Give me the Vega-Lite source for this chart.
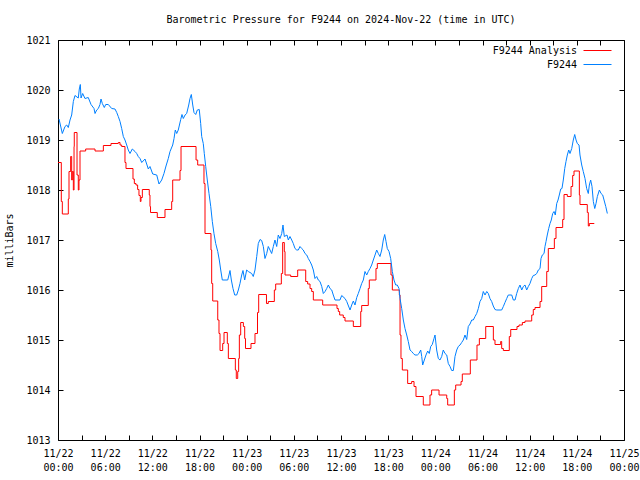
{
  "$schema": "https://vega.github.io/schema/vega-lite/v6.json",
  "width": 566,
  "height": 400,
  "autosize": {"type": "none"},
  "padding": {"left": 58, "top": 40, "right": 16, "bottom": 40},
  "background": "white",
  "config": {
    "font": "DejaVu Sans Mono",
    "view": {"stroke": "black", "strokeWidth": 1},
    "axis": {"grid": false, "domain": false, "tickColor": "black", "labelColor": "black", "labelFont": "DejaVu Sans Mono", "labelFontSize": 10, "titleFont": "DejaVu Sans Mono", "titleFontSize": 10, "titleFontWeight": "normal", "titleColor": "black"}
  },
  "title": {"text": "Barometric Pressure for F9244 on 2024-Nov-22 (time in UTC)", "font": "DejaVu Sans Mono", "fontSize": 10, "fontWeight": "normal", "color": "black", "anchor": "middle", "baseline": "middle", "offset": 5},
  "data": {"values": [
    {"series":"F9244 Analysis","hour":0,"mbar":1018.55},
    {"series":"F9244 Analysis","hour":0.42,"mbar":1017.77},
    {"series":"F9244 Analysis","hour":0.55,"mbar":1017.52},
    {"series":"F9244 Analysis","hour":1.31,"mbar":1017.82},
    {"series":"F9244 Analysis","hour":1.4,"mbar":1018.37},
    {"series":"F9244 Analysis","hour":1.61,"mbar":1018.67},
    {"series":"F9244 Analysis","hour":1.74,"mbar":1018.2},
    {"series":"F9244 Analysis","hour":1.82,"mbar":1018.37},
    {"series":"F9244 Analysis","hour":1.95,"mbar":1018.0},
    {"series":"F9244 Analysis","hour":2.04,"mbar":1018.87},
    {"series":"F9244 Analysis","hour":2.07,"mbar":1019.15},
    {"series":"F9244 Analysis","hour":2.42,"mbar":1018.3},
    {"series":"F9244 Analysis","hour":2.58,"mbar":1018.0},
    {"series":"F9244 Analysis","hour":2.67,"mbar":1018.2},
    {"series":"F9244 Analysis","hour":2.8,"mbar":1018.78},
    {"series":"F9244 Analysis","hour":3.52,"mbar":1018.82},
    {"series":"F9244 Analysis","hour":4.71,"mbar":1018.78},
    {"series":"F9244 Analysis","hour":5.77,"mbar":1018.89},
    {"series":"F9244 Analysis","hour":6.74,"mbar":1018.93},
    {"series":"F9244 Analysis","hour":7.67,"mbar":1018.95},
    {"series":"F9244 Analysis","hour":7.89,"mbar":1018.9},
    {"series":"F9244 Analysis","hour":8.1,"mbar":1018.87},
    {"series":"F9244 Analysis","hour":8.52,"mbar":1018.55},
    {"series":"F9244 Analysis","hour":8.65,"mbar":1018.43},
    {"series":"F9244 Analysis","hour":9.54,"mbar":1018.22},
    {"series":"F9244 Analysis","hour":9.71,"mbar":1018.13},
    {"series":"F9244 Analysis","hour":9.92,"mbar":1018.1},
    {"series":"F9244 Analysis","hour":10.13,"mbar":1018.01},
    {"series":"F9244 Analysis","hour":10.3,"mbar":1017.89},
    {"series":"F9244 Analysis","hour":10.47,"mbar":1017.77},
    {"series":"F9244 Analysis","hour":10.56,"mbar":1017.85},
    {"series":"F9244 Analysis","hour":10.73,"mbar":1018.01},
    {"series":"F9244 Analysis","hour":11.61,"mbar":1017.9},
    {"series":"F9244 Analysis","hour":11.7,"mbar":1017.67},
    {"series":"F9244 Analysis","hour":11.77,"mbar":1017.55},
    {"series":"F9244 Analysis","hour":12.63,"mbar":1017.45},
    {"series":"F9244 Analysis","hour":13.61,"mbar":1017.61},
    {"series":"F9244 Analysis","hour":14.46,"mbar":1017.77},
    {"series":"F9244 Analysis","hour":14.59,"mbar":1018.2},
    {"series":"F9244 Analysis","hour":15.52,"mbar":1018.39},
    {"series":"F9244 Analysis","hour":15.65,"mbar":1018.87},
    {"series":"F9244 Analysis","hour":17.56,"mbar":1018.6},
    {"series":"F9244 Analysis","hour":17.77,"mbar":1018.5},
    {"series":"F9244 Analysis","hour":18.57,"mbar":1018.13},
    {"series":"F9244 Analysis","hour":18.7,"mbar":1017.13},
    {"series":"F9244 Analysis","hour":19.46,"mbar":1016.8},
    {"series":"F9244 Analysis","hour":19.55,"mbar":1016.13},
    {"series":"F9244 Analysis","hour":19.68,"mbar":1015.78},
    {"series":"F9244 Analysis","hour":20.32,"mbar":1015.4},
    {"series":"F9244 Analysis","hour":20.48,"mbar":1015.13},
    {"series":"F9244 Analysis","hour":20.61,"mbar":1014.79},
    {"series":"F9244 Analysis","hour":20.95,"mbar":1014.93},
    {"series":"F9244 Analysis","hour":21.12,"mbar":1015.15},
    {"series":"F9244 Analysis","hour":21.54,"mbar":1014.93},
    {"series":"F9244 Analysis","hour":21.67,"mbar":1014.63},
    {"series":"F9244 Analysis","hour":22.56,"mbar":1014.4},
    {"series":"F9244 Analysis","hour":22.68,"mbar":1014.23},
    {"series":"F9244 Analysis","hour":22.86,"mbar":1014.37},
    {"series":"F9244 Analysis","hour":22.98,"mbar":1014.63},
    {"series":"F9244 Analysis","hour":23.07,"mbar":1015.1},
    {"series":"F9244 Analysis","hour":23.24,"mbar":1015.35},
    {"series":"F9244 Analysis","hour":23.58,"mbar":1015.27},
    {"series":"F9244 Analysis","hour":23.75,"mbar":1015.03},
    {"series":"F9244 Analysis","hour":23.85,"mbar":1014.83},
    {"series":"F9244 Analysis","hour":24.55,"mbar":1014.93},
    {"series":"F9244 Analysis","hour":25.06,"mbar":1015.13},
    {"series":"F9244 Analysis","hour":25.38,"mbar":1015.55},
    {"series":"F9244 Analysis","hour":25.53,"mbar":1015.91},
    {"series":"F9244 Analysis","hour":26.52,"mbar":1015.73},
    {"series":"F9244 Analysis","hour":26.75,"mbar":1015.77},
    {"series":"F9244 Analysis","hour":27.52,"mbar":1016.0},
    {"series":"F9244 Analysis","hour":27.69,"mbar":1016.12},
    {"series":"F9244 Analysis","hour":28.41,"mbar":1016.33},
    {"series":"F9244 Analysis","hour":28.58,"mbar":1016.95},
    {"series":"F9244 Analysis","hour":28.79,"mbar":1016.77},
    {"series":"F9244 Analysis","hour":28.88,"mbar":1016.3},
    {"series":"F9244 Analysis","hour":29.6,"mbar":1016.27},
    {"series":"F9244 Analysis","hour":30.49,"mbar":1016.4},
    {"series":"F9244 Analysis","hour":31.51,"mbar":1016.17},
    {"series":"F9244 Analysis","hour":31.76,"mbar":1016.12},
    {"series":"F9244 Analysis","hour":32.06,"mbar":1016.03},
    {"series":"F9244 Analysis","hour":32.27,"mbar":1015.97},
    {"series":"F9244 Analysis","hour":32.48,"mbar":1015.8},
    {"series":"F9244 Analysis","hour":33.67,"mbar":1015.7},
    {"series":"F9244 Analysis","hour":35.49,"mbar":1015.63},
    {"series":"F9244 Analysis","hour":35.66,"mbar":1015.57},
    {"series":"F9244 Analysis","hour":35.83,"mbar":1015.5},
    {"series":"F9244 Analysis","hour":36.29,"mbar":1015.45},
    {"series":"F9244 Analysis","hour":36.51,"mbar":1015.38},
    {"series":"F9244 Analysis","hour":37.57,"mbar":1015.27},
    {"series":"F9244 Analysis","hour":38.51,"mbar":1015.57},
    {"series":"F9244 Analysis","hour":38.63,"mbar":1015.69},
    {"series":"F9244 Analysis","hour":39.47,"mbar":1016.03},
    {"series":"F9244 Analysis","hour":39.6,"mbar":1016.2},
    {"series":"F9244 Analysis","hour":40.45,"mbar":1016.43},
    {"series":"F9244 Analysis","hour":40.62,"mbar":1016.53},
    {"series":"F9244 Analysis","hour":42.36,"mbar":1016.3},
    {"series":"F9244 Analysis","hour":42.53,"mbar":1016.0},
    {"series":"F9244 Analysis","hour":43.42,"mbar":1015.9},
    {"series":"F9244 Analysis","hour":43.51,"mbar":1015.1},
    {"series":"F9244 Analysis","hour":43.63,"mbar":1014.63},
    {"series":"F9244 Analysis","hour":43.8,"mbar":1014.4},
    {"series":"F9244 Analysis","hour":44.48,"mbar":1014.13},
    {"series":"F9244 Analysis","hour":44.99,"mbar":1014.17},
    {"series":"F9244 Analysis","hour":45.29,"mbar":1014.07},
    {"series":"F9244 Analysis","hour":45.54,"mbar":1013.87},
    {"series":"F9244 Analysis","hour":46.47,"mbar":1013.7},
    {"series":"F9244 Analysis","hour":47.32,"mbar":1013.9},
    {"series":"F9244 Analysis","hour":47.53,"mbar":1014.0},
    {"series":"F9244 Analysis","hour":48.47,"mbar":1013.9},
    {"series":"F9244 Analysis","hour":49.45,"mbar":1013.83},
    {"series":"F9244 Analysis","hour":49.57,"mbar":1013.7},
    {"series":"F9244 Analysis","hour":50.42,"mbar":1014.0},
    {"series":"F9244 Analysis","hour":50.59,"mbar":1014.1},
    {"series":"F9244 Analysis","hour":51.27,"mbar":1014.17},
    {"series":"F9244 Analysis","hour":51.43,"mbar":1014.32},
    {"series":"F9244 Analysis","hour":52.45,"mbar":1014.6},
    {"series":"F9244 Analysis","hour":53.3,"mbar":1014.9},
    {"series":"F9244 Analysis","hour":53.6,"mbar":1015.03},
    {"series":"F9244 Analysis","hour":54.41,"mbar":1015.27},
    {"series":"F9244 Analysis","hour":55.38,"mbar":1015.0},
    {"series":"F9244 Analysis","hour":55.59,"mbar":1014.91},
    {"series":"F9244 Analysis","hour":56.31,"mbar":1014.97},
    {"series":"F9244 Analysis","hour":56.44,"mbar":1014.83},
    {"series":"F9244 Analysis","hour":56.65,"mbar":1014.79},
    {"series":"F9244 Analysis","hour":57.41,"mbar":1015.07},
    {"series":"F9244 Analysis","hour":57.59,"mbar":1015.21},
    {"series":"F9244 Analysis","hour":58.39,"mbar":1015.27},
    {"series":"F9244 Analysis","hour":58.64,"mbar":1015.3},
    {"series":"F9244 Analysis","hour":59.07,"mbar":1015.35},
    {"series":"F9244 Analysis","hour":59.41,"mbar":1015.38},
    {"series":"F9244 Analysis","hour":60.26,"mbar":1015.5},
    {"series":"F9244 Analysis","hour":60.46,"mbar":1015.61},
    {"series":"F9244 Analysis","hour":60.68,"mbar":1015.65},
    {"series":"F9244 Analysis","hour":61.32,"mbar":1015.77},
    {"series":"F9244 Analysis","hour":61.53,"mbar":1016.07},
    {"series":"F9244 Analysis","hour":62.17,"mbar":1016.37},
    {"series":"F9244 Analysis","hour":62.37,"mbar":1016.83},
    {"series":"F9244 Analysis","hour":63.14,"mbar":1017.03},
    {"series":"F9244 Analysis","hour":63.35,"mbar":1017.25},
    {"series":"F9244 Analysis","hour":64.2,"mbar":1017.41},
    {"series":"F9244 Analysis","hour":64.37,"mbar":1017.91},
    {"series":"F9244 Analysis","hour":64.79,"mbar":1017.87},
    {"series":"F9244 Analysis","hour":65.26,"mbar":1018.07},
    {"series":"F9244 Analysis","hour":65.47,"mbar":1018.29},
    {"series":"F9244 Analysis","hour":65.64,"mbar":1018.38},
    {"series":"F9244 Analysis","hour":66.32,"mbar":1017.9},
    {"series":"F9244 Analysis","hour":66.4,"mbar":1017.71},
    {"series":"F9244 Analysis","hour":67.33,"mbar":1017.55},
    {"series":"F9244 Analysis","hour":67.46,"mbar":1017.28},
    {"series":"F9244 Analysis","hour":67.59,"mbar":1017.33},
    {"series":"F9244 Analysis","hour":68.22,"mbar":1017.33},
    {"series":"F9244","hour":0.13,"mbar":1019.42},
    {"series":"F9244","hour":0.55,"mbar":1019.13},
    {"series":"F9244","hour":0.89,"mbar":1019.27},
    {"series":"F9244","hour":1.11,"mbar":1019.3},
    {"series":"F9244","hour":1.31,"mbar":1019.25},
    {"series":"F9244","hour":1.53,"mbar":1019.4},
    {"series":"F9244","hour":1.74,"mbar":1019.5},
    {"series":"F9244","hour":1.95,"mbar":1019.77},
    {"series":"F9244","hour":2.16,"mbar":1019.89},
    {"series":"F9244","hour":2.58,"mbar":1019.84},
    {"series":"F9244","hour":2.71,"mbar":1020.02},
    {"series":"F9244","hour":2.84,"mbar":1020.11},
    {"series":"F9244","hour":2.93,"mbar":1019.84},
    {"series":"F9244","hour":3.14,"mbar":1019.93},
    {"series":"F9244","hour":3.43,"mbar":1019.83},
    {"series":"F9244","hour":3.85,"mbar":1019.85},
    {"series":"F9244","hour":4.2,"mbar":1019.71},
    {"series":"F9244","hour":4.58,"mbar":1019.63},
    {"series":"F9244","hour":4.71,"mbar":1019.53},
    {"series":"F9244","hour":4.92,"mbar":1019.6},
    {"series":"F9244","hour":5.13,"mbar":1019.63},
    {"series":"F9244","hour":5.34,"mbar":1019.71},
    {"series":"F9244","hour":5.47,"mbar":1019.82},
    {"series":"F9244","hour":5.64,"mbar":1019.73},
    {"series":"F9244","hour":5.89,"mbar":1019.65},
    {"series":"F9244","hour":6.07,"mbar":1019.71},
    {"series":"F9244","hour":6.4,"mbar":1019.71},
    {"series":"F9244","hour":6.83,"mbar":1019.63},
    {"series":"F9244","hour":7.25,"mbar":1019.62},
    {"series":"F9244","hour":7.47,"mbar":1019.55},
    {"series":"F9244","hour":7.67,"mbar":1019.47},
    {"series":"F9244","hour":7.89,"mbar":1019.37},
    {"series":"F9244","hour":8.1,"mbar":1019.23},
    {"series":"F9244","hour":8.31,"mbar":1019.07},
    {"series":"F9244","hour":8.52,"mbar":1019.0},
    {"series":"F9244","hour":8.74,"mbar":1018.9},
    {"series":"F9244","hour":8.94,"mbar":1018.8},
    {"series":"F9244","hour":9.16,"mbar":1018.73},
    {"series":"F9244","hour":9.45,"mbar":1018.82},
    {"series":"F9244","hour":9.8,"mbar":1018.77},
    {"series":"F9244","hour":10.01,"mbar":1018.73},
    {"series":"F9244","hour":10.21,"mbar":1018.67},
    {"series":"F9244","hour":10.43,"mbar":1018.63},
    {"series":"F9244","hour":10.65,"mbar":1018.55},
    {"series":"F9244","hour":11.07,"mbar":1018.62},
    {"series":"F9244","hour":11.49,"mbar":1018.42},
    {"series":"F9244","hour":11.7,"mbar":1018.47},
    {"series":"F9244","hour":12.05,"mbar":1018.32},
    {"series":"F9244","hour":12.56,"mbar":1018.3},
    {"series":"F9244","hour":12.85,"mbar":1018.12},
    {"series":"F9244","hour":13.19,"mbar":1018.2},
    {"series":"F9244","hour":13.48,"mbar":1018.33},
    {"series":"F9244","hour":13.74,"mbar":1018.48},
    {"series":"F9244","hour":14.03,"mbar":1018.63},
    {"series":"F9244","hour":14.25,"mbar":1018.77},
    {"series":"F9244","hour":14.59,"mbar":1018.9},
    {"series":"F9244","hour":14.76,"mbar":1019.03},
    {"series":"F9244","hour":14.92,"mbar":1019.2},
    {"series":"F9244","hour":15.1,"mbar":1019.13},
    {"series":"F9244","hour":15.3,"mbar":1019.2},
    {"series":"F9244","hour":15.61,"mbar":1019.41},
    {"series":"F9244","hour":15.77,"mbar":1019.51},
    {"series":"F9244","hour":15.94,"mbar":1019.43},
    {"series":"F9244","hour":16.16,"mbar":1019.5},
    {"series":"F9244","hour":16.37,"mbar":1019.53},
    {"series":"F9244","hour":16.63,"mbar":1019.7},
    {"series":"F9244","hour":16.79,"mbar":1019.83},
    {"series":"F9244","hour":16.96,"mbar":1019.91},
    {"series":"F9244","hour":17.14,"mbar":1019.7},
    {"series":"F9244","hour":17.3,"mbar":1019.55},
    {"series":"F9244","hour":17.52,"mbar":1019.51},
    {"series":"F9244","hour":17.72,"mbar":1019.6},
    {"series":"F9244","hour":17.97,"mbar":1019.61},
    {"series":"F9244","hour":18.15,"mbar":1019.33},
    {"series":"F9244","hour":18.28,"mbar":1019.07},
    {"series":"F9244","hour":18.48,"mbar":1018.93},
    {"series":"F9244","hour":18.61,"mbar":1018.73},
    {"series":"F9244","hour":18.79,"mbar":1018.47},
    {"series":"F9244","hour":18.99,"mbar":1018.2},
    {"series":"F9244","hour":19.21,"mbar":1017.93},
    {"series":"F9244","hour":19.43,"mbar":1017.67},
    {"series":"F9244","hour":19.63,"mbar":1017.37},
    {"series":"F9244","hour":19.84,"mbar":1017.13},
    {"series":"F9244","hour":20.06,"mbar":1016.93},
    {"series":"F9244","hour":20.32,"mbar":1016.77},
    {"series":"F9244","hour":20.52,"mbar":1016.6},
    {"series":"F9244","hour":20.7,"mbar":1016.4},
    {"series":"F9244","hour":20.9,"mbar":1016.2},
    {"series":"F9244","hour":21.59,"mbar":1016.2},
    {"series":"F9244","hour":21.75,"mbar":1016.3},
    {"series":"F9244","hour":21.88,"mbar":1016.39},
    {"series":"F9244","hour":22.05,"mbar":1016.2},
    {"series":"F9244","hour":22.26,"mbar":1016.03},
    {"series":"F9244","hour":22.48,"mbar":1015.9},
    {"series":"F9244","hour":22.73,"mbar":1015.9},
    {"series":"F9244","hour":22.94,"mbar":1016.0},
    {"series":"F9244","hour":23.15,"mbar":1016.13},
    {"series":"F9244","hour":23.37,"mbar":1016.3},
    {"series":"F9244","hour":23.53,"mbar":1016.39},
    {"series":"F9244","hour":23.75,"mbar":1016.2},
    {"series":"F9244","hour":24.0,"mbar":1016.4},
    {"series":"F9244","hour":24.21,"mbar":1016.37},
    {"series":"F9244","hour":24.64,"mbar":1016.33},
    {"series":"F9244","hour":24.84,"mbar":1016.27},
    {"series":"F9244","hour":25.06,"mbar":1016.4},
    {"series":"F9244","hour":25.28,"mbar":1016.67},
    {"series":"F9244","hour":25.48,"mbar":1016.93},
    {"series":"F9244","hour":25.7,"mbar":1017.01},
    {"series":"F9244","hour":25.91,"mbar":1016.99},
    {"series":"F9244","hour":26.12,"mbar":1016.87},
    {"series":"F9244","hour":26.33,"mbar":1016.63},
    {"series":"F9244","hour":26.55,"mbar":1016.73},
    {"series":"F9244","hour":26.75,"mbar":1016.87},
    {"series":"F9244","hour":26.97,"mbar":1016.8},
    {"series":"F9244","hour":27.18,"mbar":1016.73},
    {"series":"F9244","hour":27.39,"mbar":1016.87},
    {"series":"F9244","hour":27.6,"mbar":1017.0},
    {"series":"F9244","hour":27.82,"mbar":1016.87},
    {"series":"F9244","hour":28.02,"mbar":1017.1},
    {"series":"F9244","hour":28.24,"mbar":1017.03},
    {"series":"F9244","hour":28.46,"mbar":1017.13},
    {"series":"F9244","hour":28.62,"mbar":1017.3},
    {"series":"F9244","hour":28.79,"mbar":1017.07},
    {"series":"F9244","hour":29.13,"mbar":1017.1},
    {"series":"F9244","hour":29.3,"mbar":1017.0},
    {"series":"F9244","hour":29.51,"mbar":1017.07},
    {"series":"F9244","hour":29.73,"mbar":1017.0},
    {"series":"F9244","hour":29.93,"mbar":1016.93},
    {"series":"F9244","hour":30.15,"mbar":1016.83},
    {"series":"F9244","hour":30.37,"mbar":1016.8},
    {"series":"F9244","hour":30.57,"mbar":1016.8},
    {"series":"F9244","hour":30.78,"mbar":1016.87},
    {"series":"F9244","hour":31.0,"mbar":1016.83},
    {"series":"F9244","hour":31.2,"mbar":1016.8},
    {"series":"F9244","hour":31.42,"mbar":1016.73},
    {"series":"F9244","hour":31.64,"mbar":1016.7},
    {"series":"F9244","hour":31.84,"mbar":1016.63},
    {"series":"F9244","hour":32.06,"mbar":1016.57},
    {"series":"F9244","hour":32.27,"mbar":1016.5},
    {"series":"F9244","hour":32.48,"mbar":1016.4},
    {"series":"F9244","hour":32.69,"mbar":1016.23},
    {"series":"F9244","hour":32.91,"mbar":1016.27},
    {"series":"F9244","hour":33.11,"mbar":1016.2},
    {"series":"F9244","hour":33.33,"mbar":1016.17},
    {"series":"F9244","hour":33.55,"mbar":1016.07},
    {"series":"F9244","hour":33.75,"mbar":1015.93},
    {"series":"F9244","hour":33.97,"mbar":1015.97},
    {"series":"F9244","hour":34.18,"mbar":1016.03},
    {"series":"F9244","hour":34.39,"mbar":1016.1},
    {"series":"F9244","hour":34.6,"mbar":1016.03},
    {"series":"F9244","hour":34.82,"mbar":1016.0},
    {"series":"F9244","hour":35.02,"mbar":1015.9},
    {"series":"F9244","hour":35.24,"mbar":1015.8},
    {"series":"F9244","hour":35.87,"mbar":1015.8},
    {"series":"F9244","hour":36.09,"mbar":1015.89},
    {"series":"F9244","hour":36.51,"mbar":1015.83},
    {"series":"F9244","hour":36.73,"mbar":1015.77},
    {"series":"F9244","hour":37.15,"mbar":1015.6},
    {"series":"F9244","hour":37.36,"mbar":1015.7},
    {"series":"F9244","hour":37.57,"mbar":1015.78},
    {"series":"F9244","hour":37.78,"mbar":1015.7},
    {"series":"F9244","hour":38.0,"mbar":1015.85},
    {"series":"F9244","hour":38.2,"mbar":1015.93},
    {"series":"F9244","hour":38.42,"mbar":1016.03},
    {"series":"F9244","hour":38.63,"mbar":1016.13},
    {"series":"F9244","hour":38.84,"mbar":1016.2},
    {"series":"F9244","hour":39.05,"mbar":1016.37},
    {"series":"F9244","hour":39.27,"mbar":1016.3},
    {"series":"F9244","hour":39.47,"mbar":1016.37},
    {"series":"F9244","hour":39.69,"mbar":1016.43},
    {"series":"F9244","hour":39.9,"mbar":1016.5},
    {"series":"F9244","hour":40.11,"mbar":1016.6},
    {"series":"F9244","hour":40.33,"mbar":1016.7},
    {"series":"F9244","hour":40.54,"mbar":1016.8},
    {"series":"F9244","hour":40.75,"mbar":1016.73},
    {"series":"F9244","hour":40.96,"mbar":1016.67},
    {"series":"F9244","hour":41.18,"mbar":1016.8},
    {"series":"F9244","hour":41.38,"mbar":1017.0},
    {"series":"F9244","hour":41.56,"mbar":1017.11},
    {"series":"F9244","hour":41.73,"mbar":1016.97},
    {"series":"F9244","hour":41.89,"mbar":1016.83},
    {"series":"F9244","hour":42.11,"mbar":1016.77},
    {"series":"F9244","hour":42.32,"mbar":1016.63},
    {"series":"F9244","hour":42.53,"mbar":1016.37},
    {"series":"F9244","hour":42.74,"mbar":1016.2},
    {"series":"F9244","hour":42.96,"mbar":1016.1},
    {"series":"F9244","hour":43.16,"mbar":1016.1},
    {"series":"F9244","hour":43.38,"mbar":1016.03},
    {"series":"F9244","hour":43.51,"mbar":1015.83},
    {"series":"F9244","hour":43.72,"mbar":1015.63},
    {"series":"F9244","hour":43.93,"mbar":1015.4},
    {"series":"F9244","hour":44.14,"mbar":1015.23},
    {"series":"F9244","hour":44.36,"mbar":1015.1},
    {"series":"F9244","hour":44.56,"mbar":1014.97},
    {"series":"F9244","hour":44.78,"mbar":1014.8},
    {"series":"F9244","hour":44.99,"mbar":1014.77},
    {"series":"F9244","hour":45.2,"mbar":1014.73},
    {"series":"F9244","hour":45.41,"mbar":1014.7},
    {"series":"F9244","hour":45.71,"mbar":1014.7},
    {"series":"F9244","hour":45.92,"mbar":1014.73},
    {"series":"F9244","hour":46.14,"mbar":1014.8},
    {"series":"F9244","hour":46.27,"mbar":1014.67},
    {"series":"F9244","hour":46.39,"mbar":1014.5},
    {"series":"F9244","hour":46.6,"mbar":1014.6},
    {"series":"F9244","hour":46.81,"mbar":1014.7},
    {"series":"F9244","hour":47.03,"mbar":1014.78},
    {"series":"F9244","hour":47.23,"mbar":1014.73},
    {"series":"F9244","hour":47.41,"mbar":1014.87},
    {"series":"F9244","hour":47.61,"mbar":1014.91},
    {"series":"F9244","hour":47.83,"mbar":1015.03},
    {"series":"F9244","hour":47.96,"mbar":1015.1},
    {"series":"F9244","hour":48.17,"mbar":1014.8},
    {"series":"F9244","hour":48.38,"mbar":1014.63},
    {"series":"F9244","hour":48.59,"mbar":1014.6},
    {"series":"F9244","hour":48.81,"mbar":1014.67},
    {"series":"F9244","hour":49.01,"mbar":1014.8},
    {"series":"F9244","hour":49.23,"mbar":1014.73},
    {"series":"F9244","hour":49.45,"mbar":1014.7},
    {"series":"F9244","hour":49.65,"mbar":1014.53},
    {"series":"F9244","hour":49.87,"mbar":1014.47},
    {"series":"F9244","hour":50.08,"mbar":1014.39},
    {"series":"F9244","hour":50.29,"mbar":1014.39},
    {"series":"F9244","hour":50.5,"mbar":1014.67},
    {"series":"F9244","hour":50.72,"mbar":1014.8},
    {"series":"F9244","hour":50.92,"mbar":1014.87},
    {"series":"F9244","hour":51.14,"mbar":1014.9},
    {"series":"F9244","hour":51.35,"mbar":1014.95},
    {"series":"F9244","hour":51.56,"mbar":1015.0},
    {"series":"F9244","hour":51.77,"mbar":1015.1},
    {"series":"F9244","hour":51.99,"mbar":1015.01},
    {"series":"F9244","hour":52.19,"mbar":1015.27},
    {"series":"F9244","hour":52.41,"mbar":1015.32},
    {"series":"F9244","hour":52.63,"mbar":1015.4},
    {"series":"F9244","hour":52.83,"mbar":1015.4},
    {"series":"F9244","hour":53.05,"mbar":1015.47},
    {"series":"F9244","hour":53.26,"mbar":1015.53},
    {"series":"F9244","hour":53.47,"mbar":1015.63},
    {"series":"F9244","hour":53.68,"mbar":1015.77},
    {"series":"F9244","hour":53.9,"mbar":1015.83},
    {"series":"F9244","hour":54.1,"mbar":1015.97},
    {"series":"F9244","hour":54.32,"mbar":1015.9},
    {"series":"F9244","hour":54.54,"mbar":1015.97},
    {"series":"F9244","hour":54.74,"mbar":1015.93},
    {"series":"F9244","hour":54.95,"mbar":1015.83},
    {"series":"F9244","hour":55.17,"mbar":1015.77},
    {"series":"F9244","hour":55.37,"mbar":1015.68},
    {"series":"F9244","hour":55.59,"mbar":1015.61},
    {"series":"F9244","hour":55.81,"mbar":1015.6},
    {"series":"F9244","hour":56.44,"mbar":1015.6},
    {"series":"F9244","hour":56.65,"mbar":1015.67},
    {"series":"F9244","hour":56.86,"mbar":1015.75},
    {"series":"F9244","hour":57.08,"mbar":1015.83},
    {"series":"F9244","hour":57.28,"mbar":1015.9},
    {"series":"F9244","hour":57.72,"mbar":1015.9},
    {"series":"F9244","hour":57.92,"mbar":1015.8},
    {"series":"F9244","hour":58.14,"mbar":1015.8},
    {"series":"F9244","hour":58.35,"mbar":1015.93},
    {"series":"F9244","hour":58.56,"mbar":1016.03},
    {"series":"F9244","hour":58.77,"mbar":1016.1},
    {"series":"F9244","hour":58.99,"mbar":1016.0},
    {"series":"F9244","hour":59.19,"mbar":1016.07},
    {"series":"F9244","hour":59.41,"mbar":1016.1},
    {"series":"F9244","hour":59.62,"mbar":1016.0},
    {"series":"F9244","hour":59.83,"mbar":1016.07},
    {"series":"F9244","hour":60.04,"mbar":1016.13},
    {"series":"F9244","hour":60.26,"mbar":1016.23},
    {"series":"F9244","hour":60.46,"mbar":1016.29},
    {"series":"F9244","hour":60.68,"mbar":1016.3},
    {"series":"F9244","hour":60.9,"mbar":1016.33},
    {"series":"F9244","hour":61.1,"mbar":1016.4},
    {"series":"F9244","hour":61.32,"mbar":1016.43},
    {"series":"F9244","hour":61.44,"mbar":1016.63},
    {"series":"F9244","hour":61.61,"mbar":1016.7},
    {"series":"F9244","hour":61.83,"mbar":1016.73},
    {"series":"F9244","hour":61.95,"mbar":1016.87},
    {"series":"F9244","hour":62.08,"mbar":1016.97},
    {"series":"F9244","hour":62.24,"mbar":1017.1},
    {"series":"F9244","hour":62.42,"mbar":1017.23},
    {"series":"F9244","hour":62.59,"mbar":1017.33},
    {"series":"F9244","hour":62.75,"mbar":1017.4},
    {"series":"F9244","hour":62.93,"mbar":1017.53},
    {"series":"F9244","hour":63.1,"mbar":1017.57},
    {"series":"F9244","hour":63.26,"mbar":1017.5},
    {"series":"F9244","hour":63.44,"mbar":1017.73},
    {"series":"F9244","hour":63.61,"mbar":1017.8},
    {"series":"F9244","hour":63.77,"mbar":1017.9},
    {"series":"F9244","hour":63.95,"mbar":1018.02},
    {"series":"F9244","hour":64.11,"mbar":1018.03},
    {"series":"F9244","hour":64.28,"mbar":1018.2},
    {"series":"F9244","hour":64.46,"mbar":1018.43},
    {"series":"F9244","hour":64.62,"mbar":1018.57},
    {"series":"F9244","hour":64.79,"mbar":1018.7},
    {"series":"F9244","hour":64.97,"mbar":1018.8},
    {"series":"F9244","hour":65.13,"mbar":1018.73},
    {"series":"F9244","hour":65.35,"mbar":1018.83},
    {"series":"F9244","hour":65.55,"mbar":1019.0},
    {"series":"F9244","hour":65.73,"mbar":1019.11},
    {"series":"F9244","hour":65.9,"mbar":1019.0},
    {"series":"F9244","hour":66.06,"mbar":1018.93},
    {"series":"F9244","hour":66.28,"mbar":1018.9},
    {"series":"F9244","hour":66.4,"mbar":1018.7},
    {"series":"F9244","hour":66.62,"mbar":1018.5},
    {"series":"F9244","hour":66.82,"mbar":1018.37},
    {"series":"F9244","hour":67.04,"mbar":1018.23},
    {"series":"F9244","hour":67.25,"mbar":1018.03},
    {"series":"F9244","hour":67.46,"mbar":1017.93},
    {"series":"F9244","hour":67.59,"mbar":1018.1},
    {"series":"F9244","hour":67.76,"mbar":1018.2},
    {"series":"F9244","hour":67.93,"mbar":1018.07},
    {"series":"F9244","hour":68.1,"mbar":1017.77},
    {"series":"F9244","hour":68.28,"mbar":1017.63},
    {"series":"F9244","hour":68.44,"mbar":1017.73},
    {"series":"F9244","hour":68.61,"mbar":1017.87},
    {"series":"F9244","hour":68.87,"mbar":1018.0},
    {"series":"F9244","hour":69.08,"mbar":1017.93},
    {"series":"F9244","hour":69.29,"mbar":1017.9},
    {"series":"F9244","hour":69.46,"mbar":1017.8},
    {"series":"F9244","hour":69.68,"mbar":1017.67},
    {"series":"F9244","hour":69.88,"mbar":1017.53}
  ]},
  "resolve": {"axis": {"x": "independent", "y": "independent"}},
  "layer": [
    {
      "transform": [{"filter": "datum.series == 'F9244 Analysis'"}],
      "mark": {"type": "line", "interpolate": "step-after", "strokeWidth": 1},
      "encoding": {
        "x": {"field": "hour", "type": "quantitative", "scale": {"domain": [0, 72], "nice": false, "zero": false},
          "axis": {"orient": "bottom", "title": null, "values": [0,3,6,9,12,15,18,21,24,27,30,33,36,39,42,45,48,51,54,57,60,63,66,69,72],
            "labelExpr": "datum.value % 6 == 0 ? ['11/' + (22 + floor(datum.value / 24)), (datum.value % 24 < 10 ? '0' : '') + (datum.value % 24) + ':00'] : ''",
            "tickSize": -5, "labelPadding": 13, "labelLineHeight": 14, "labelOverlap": false, "labelBound": false, "labelFlush": false, "labelBaseline": "top"}},
        "y": {"field": "mbar", "type": "quantitative", "scale": {"domain": [1013, 1021], "nice": false, "zero": false},
          "axis": {"orient": "left", "title": "milliBars", "values": [1013,1014,1015,1016,1017,1018,1019,1020,1021], "format": "d",
            "tickSize": -5, "labelPadding": 13, "titlePadding": 11, "labelOverlap": false, "labelBound": false, "labelFlush": false}},
        "color": {"field": "series", "type": "nominal", "scale": {"domain": ["F9244 Analysis", "F9244"], "range": ["#ff0000", "#0080ff"]},
          "legend": {"orient": "none", "legendX": 532, "legendY": 3, "title": null, "symbolType": "M-2,0H2", "symbolSize": 196, "symbolStrokeWidth": 1, "rowPadding": 1, "padding": 0, "labelAlign": "right", "labelOffset": -28, "labelFont": "DejaVu Sans Mono", "labelFontSize": 10, "labelColor": "black", "labelLimit": 0}}
      }
    },
    {
      "transform": [{"filter": "datum.series == 'F9244'"}],
      "mark": {"type": "line", "strokeWidth": 1},
      "encoding": {
        "x": {"field": "hour", "type": "quantitative", "scale": {"domain": [0, 72], "nice": false, "zero": false},
          "axis": {"orient": "top", "title": null, "labels": false, "values": [0,3,6,9,12,15,18,21,24,27,30,33,36,39,42,45,48,51,54,57,60,63,66,69,72], "tickSize": -5}},
        "y": {"field": "mbar", "type": "quantitative", "scale": {"domain": [1013, 1021], "nice": false, "zero": false},
          "axis": {"orient": "right", "title": null, "labels": false, "values": [1013,1014,1015,1016,1017,1018,1019,1020,1021], "tickSize": -5}},
        "color": {"field": "series", "type": "nominal", "scale": {"domain": ["F9244 Analysis", "F9244"], "range": ["#ff0000", "#0080ff"]},
          "legend": {"orient": "none", "legendX": 532, "legendY": 3, "title": null, "symbolType": "M-2,0H2", "symbolSize": 196, "symbolStrokeWidth": 1, "rowPadding": 1, "padding": 0, "labelAlign": "right", "labelOffset": -28, "labelFont": "DejaVu Sans Mono", "labelFontSize": 10, "labelColor": "black", "labelLimit": 0}}
      }
    }
  ]
}
